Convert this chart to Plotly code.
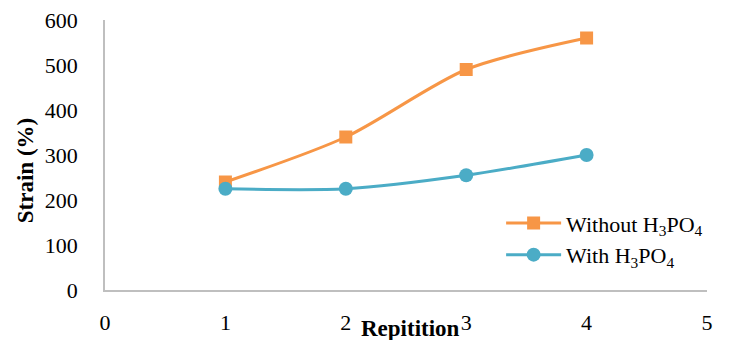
import plotly.graph_objects as go

# Strain per repetition, with and without phosphoric acid
repetition = [1, 2, 3, 4]
strain_without = [240, 340, 490, 560]
strain_with = [225, 225, 255, 300]

x_ticks = [0, 1, 2, 3, 4, 5]
y_ticks = [0, 100, 200, 300, 400, 500, 600]

ORANGE = "#F79646"
BLUE = "#4BACC6"
AXIS_GRAY = "#BFBFBF"
FONT = "Liberation Serif"

fig = go.Figure()
fig.add_trace(go.Scatter(
    x=repetition, y=strain_without, mode="lines+markers",
    name="Without H<sub>3</sub>PO<sub>4</sub>",
    line=dict(color=ORANGE, width=3, shape="spline", smoothing=0.8),
    marker=dict(symbol="square", size=13, color=ORANGE),
))
fig.add_trace(go.Scatter(
    x=repetition, y=strain_with, mode="lines+markers",
    name="With H<sub>3</sub>PO<sub>4</sub>",
    line=dict(color=BLUE, width=3, shape="spline", smoothing=0.8),
    marker=dict(symbol="circle", size=14, color=BLUE),
))

fig.update_layout(
    width=729, height=340,
    margin=dict(l=105, r=22, t=20, b=50, autoexpand=False),
    paper_bgcolor="white", plot_bgcolor="white",
    font=dict(family=FONT, size=22, color="black"),
    showlegend=True,
    legend=dict(
        x=0.658, y=0.325, xanchor="left", yanchor="top",
        bgcolor="rgba(0,0,0,0)", itemwidth=55,
        font=dict(family=FONT, size=22, color="black"),
        tracegroupgap=0,
    ),
    xaxis=dict(
        range=[0, 5], tickvals=x_ticks, ticks="", showgrid=False,
        zeroline=False, showline=True, linecolor=AXIS_GRAY, linewidth=1.5,
        tickfont=dict(family=FONT, size=22), ticklabelstandoff=12,
        automargin=False,
    ),
    yaxis=dict(
        range=[0, 600], tickvals=y_ticks, ticks="", showgrid=False,
        zeroline=False, showline=True, linecolor=AXIS_GRAY, linewidth=1.5,
        tickfont=dict(family=FONT, size=22), ticklabelstandoff=21,
        automargin=False,
    ),
    annotations=[
        dict(text="<b>Repitition</b>", xref="paper", yref="paper",
             x=0.508, y=0, yshift=-38, xanchor="center", yanchor="middle",
             showarrow=False, font=dict(family=FONT, size=23)),
        dict(text="<b>Strain (%)</b>", xref="paper", yref="paper",
             x=0, xshift=-80, y=0.44, xanchor="center", yanchor="middle",
             textangle=-90, showarrow=False, font=dict(family=FONT, size=23)),
    ],
)

fig.write_html("out.html")
